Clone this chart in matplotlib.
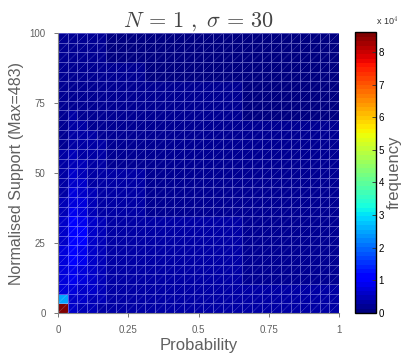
import numpy as np
import matplotlib
matplotlib.use("Agg")
import matplotlib.pyplot as plt
from matplotlib.collections import LineCollection

plt.rcParams['mathtext.fontset'] = 'cm'
plt.rcParams['font.family'] = ['Liberation Sans', 'DejaVu Sans']

# ---- data (frequency, in thousands) ----
n_bins = 29
x_ticks = [0, 0.25, 0.5, 0.75, 1]
x_tick_labels = ['0', '0.25', '0.5', '0.75', '1']
y_ticks = [0, 25, 50, 75, 100]
y_tick_labels = ['0', '25', '50', '75', '100']
cbar_ticks = [0, 1, 2, 3, 4, 5, 6, 7, 8]
vmax_k = 86.0

# column profiles (bottom row first), values in 1e3
col0 = [86, 25, 7, 7, 7.5, 7.5, 7, 6.5, 6, 5.5, 5, 4.5, 4, 3.5, 3.5, 3, 3, 2.5, 2.5, 2.5, 2, 2, 2, 2, 1.8, 1.8, 1.5, 1.5, 1.5]
col1 = [6, 6.5, 8, 8.5, 9, 9.5, 10, 10.5, 10.5, 10, 9, 8, 7, 6, 5.5, 5, 4.5, 4, 3.5, 3, 3, 2.5, 2.5, 2, 2, 2, 1.8, 1.8, 1.5]
col2 = [5, 5.5, 6.5, 7.5, 8, 8.5, 9, 9.5, 9.5, 9, 8, 7.5, 6.5, 6, 5, 4.5, 4, 3.5, 3, 3, 2.5, 2.5, 2, 2, 2, 1.8, 1.8, 1.5, 1.5]
col3 = [4.5, 5, 5.5, 6, 6, 6, 6, 6, 5.5, 5.5, 5, 5, 4.5, 4, 4, 3.5, 3.5, 3, 3, 2.5, 2.5, 2.5, 2, 2, 2, 1.8, 1.5, 1.5, 1.5]
col4 = [4, 4.5, 4.5, 5, 5, 5, 5, 4.5, 4.5, 4.5, 4, 4, 4, 3.5, 3.5, 3, 3, 3, 2.5, 2.5, 2, 2, 2, 2, 1.8, 1.5, 1.5, 1.5, 1.5]
cols5_8 = [4, 4, 4, 4, 4, 4, 3.8, 3.8, 3.5, 3.5, 3.5, 3.2, 3, 3, 2.8, 2.6, 2.5, 2.4, 2.2, 2, 2, 1.8, 1.8, 1.6, 1.5, 1.4, 1.3, 1.2, 1.2]
cols9_18 = [3.5, 3.5, 3.4, 3.3, 3.2, 3, 3, 2.9, 2.8, 2.7, 2.6, 2.5, 2.4, 2.3, 2.2, 2.1, 2, 1.9, 1.8, 1.7, 1.6, 1.5, 1.4, 1.4, 1.3, 1.2, 1.2, 1.1, 1.1]
cols19_28 = [2.8, 2.8, 2.7, 2.6, 2.5, 2.4, 2.3, 2.2, 2.2, 2.1, 2, 2, 1.9, 1.8, 1.7, 1.7, 1.6, 1.5, 1.5, 1.4, 1.3, 1.3, 1.2, 1.2, 1.1, 1.1, 1, 1, 1]

columns = [col0, col1, col2, col3, col4] + [cols5_8] * 4 + [cols9_18] * 10 + [cols19_28] * 10
Z = np.array(columns).T * 1000.0  # rows = y bins, cols = x bins

x_edges = np.linspace(0, 1, n_bins + 1)
y_edges = np.linspace(0, 100, n_bins + 1)

fig = plt.figure(figsize=(4.06, 3.56), dpi=100)
ax = fig.add_axes([0.143, 0.121, 0.692, 0.786])
cmap = plt.get_cmap('jet', 64)
mesh = ax.pcolormesh(x_edges, y_edges, Z, cmap=cmap, vmin=0, vmax=vmax_k * 1000,
                     edgecolors=(0.75, 0.75, 1.0, 0.45), linewidth=0.6, shading='flat')

# diagonal facet edges
segs = []
for i in range(n_bins):
    for j in range(n_bins):
        segs.append([(x_edges[i], y_edges[j]), (x_edges[i + 1], y_edges[j + 1])])
lc = LineCollection(segs, colors=[(0.85, 0.85, 1.0, 0.5)], linewidths=0.5, linestyles=(0, (1, 1)))
ax.add_collection(lc)

ax.set_xlim(0, 1)
ax.set_ylim(0, 100)
ax.set_xticks(x_ticks)
ax.set_xticklabels(x_tick_labels)
ax.set_yticks(y_ticks)
ax.set_yticklabels(y_tick_labels)
gray = '#606060'
ax.tick_params(axis='both', labelsize=7, colors=gray, direction='out', length=3, width=0.6, pad=6)
for s in ['top', 'right']:
    ax.spines[s].set_visible(False)
for s in ['left', 'bottom']:
    ax.spines[s].set_color('#888888')
    ax.spines[s].set_linewidth(0.8)

ax.set_xlabel('Probability', fontsize=12, color=gray, labelpad=2)
ax.set_ylabel('Normalised Support (Max=483)', fontsize=11.5, color=gray, labelpad=4)
ax.set_title(r'$N\,=\,1\ ,\ \sigma\,=\,30$', fontsize=16, color='#444444', pad=3)

cax = fig.add_axes([0.874, 0.121, 0.052, 0.788])
cb = fig.colorbar(mesh, cax=cax)
cb.set_ticks([t * 1e4 for t in cbar_ticks])
cb.set_ticklabels([str(t) for t in cbar_ticks])
cax.tick_params(labelsize=7, direction='in', length=3, width=0.6, color='#333333', pad=2)
cb.outline.set_linewidth(1.0)
cb.outline.set_edgecolor('black')
cb.set_label('frequency', fontsize=12, color=gray, labelpad=2)
cax.text(1.0, 1.015, r'x 10$^4$', transform=cax.transAxes, fontsize=6.5, ha='left', va='bottom', color='#333333')

fig.savefig('out.png', dpi=100)
